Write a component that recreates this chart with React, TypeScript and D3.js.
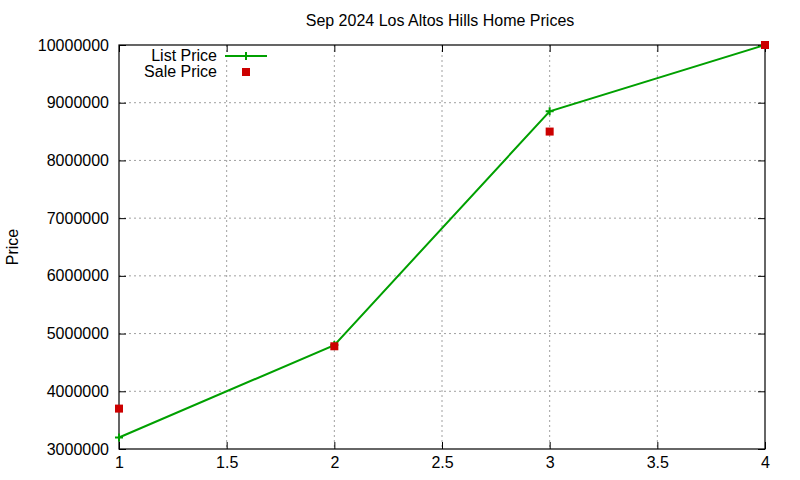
import React, { useEffect, useRef } from 'react';
import * as d3 from 'd3';

const bedrooms = [1, 2, 3, 4];
const listPrice = [3200000, 4800000, 8850000, 10000000];
const salePrice = [3700000, 4780000, 8500000, 10000000];
const xTicks = [1, 1.5, 2, 2.5, 3, 3.5, 4];
const yTicks = [3000000, 4000000, 5000000, 6000000, 7000000, 8000000, 9000000, 10000000];

const App = () => {
  const ref = useRef<SVGSVGElement>(null);

  useEffect(() => {
    const svg = d3.select(ref.current);
    svg.selectAll('*').remove();

    const width = 800;
    const height = 480;
    const margin = { top: 45, right: 35, bottom: 31, left: 119 };
    const innerWidth = width - margin.left - margin.right;
    const innerHeight = height - margin.top - margin.bottom;
    const font = 'Liberation Sans, Arial, sans-serif';

    const x = d3.scaleLinear().domain([1, 4]).range([0, innerWidth]);
    const y = d3.scaleLinear().domain([3000000, 10000000]).range([innerHeight, 0]);

    svg.append('rect').attr('width', width).attr('height', height).attr('fill', '#fff');

    const g = svg.append('g').attr('transform', `translate(${margin.left},${margin.top})`);

    // Grid
    g.selectAll('.gx')
      .data(xTicks.slice(1, -1))
      .enter()
      .append('line')
      .attr('x1', d => x(d)).attr('x2', d => x(d))
      .attr('y1', 0).attr('y2', innerHeight)
      .attr('stroke', '#a0a0a0')
      .attr('stroke-dasharray', '2,3');

    g.selectAll('.gy')
      .data(yTicks.slice(1, -1))
      .enter()
      .append('line')
      .attr('x1', 0).attr('x2', innerWidth)
      .attr('y1', d => y(d)).attr('y2', d => y(d))
      .attr('stroke', '#a0a0a0')
      .attr('stroke-dasharray', '2,3');

    // Axes (ticks inside, mirrored)
    g.append('g')
      .attr('transform', `translate(0,${innerHeight})`)
      .call(d3.axisBottom(x).tickValues(xTicks).tickSizeInner(-7).tickSizeOuter(0).tickPadding(8).tickFormat(d3.format('')))
      .call(a => a.select('.domain').remove());
    g.append('g')
      .call(d3.axisTop(x).tickValues(xTicks).tickSizeInner(-7).tickSizeOuter(0).tickFormat(() => ''))
      .call(a => a.select('.domain').remove());
    g.append('g')
      .call(d3.axisLeft(y).tickValues(yTicks).tickSizeInner(-7).tickSizeOuter(0).tickPadding(10).tickFormat(d3.format('d')))
      .call(a => a.select('.domain').remove());
    g.append('g')
      .attr('transform', `translate(${innerWidth},0)`)
      .call(d3.axisRight(y).tickValues(yTicks).tickSizeInner(-7).tickSizeOuter(0).tickFormat(() => ''))
      .call(a => a.select('.domain').remove());

    g.selectAll('.tick text')
      .attr('font-family', font)
      .attr('font-size', '16px')
      .attr('fill', '#000');
    g.selectAll('.tick line').attr('stroke', '#000');

    g.append('rect')
      .attr('width', innerWidth)
      .attr('height', innerHeight)
      .attr('fill', 'none')
      .attr('stroke', '#000')
      .attr('stroke-width', 1.2);

    // List price line
    const green = '#00a000';
    const red = '#cc0000';
    const line = d3.line<number>().x((_, i) => x(bedrooms[i])).y(d => y(d));
    g.append('path')
      .datum(listPrice)
      .attr('d', line)
      .attr('fill', 'none')
      .attr('stroke', green)
      .attr('stroke-width', 2);

    const plus = (sel: any, cx: number, cy: number) => {
      sel.append('path')
        .attr('d', `M${cx - 4},${cy}H${cx + 4}M${cx},${cy - 4}V${cy + 4}`)
        .attr('stroke', green)
        .attr('stroke-width', 2);
    };
    listPrice.forEach((v, i) => plus(g, x(bedrooms[i]), y(v)));

    g.selectAll('.sale')
      .data(salePrice)
      .enter()
      .append('rect')
      .attr('x', (_, i) => x(bedrooms[i]) - 4)
      .attr('y', d => y(d) - 4)
      .attr('width', 8)
      .attr('height', 8)
      .attr('fill', red);

    // Legend
    const legend = svg.append('g').attr('font-family', font).attr('font-size', '16px');
    legend.append('text').attr('x', 217).attr('y', 61).attr('text-anchor', 'end').text('List Price');
    legend.append('line').attr('x1', 225).attr('x2', 267).attr('y1', 56).attr('y2', 56)
      .attr('stroke', green).attr('stroke-width', 2);
    plus(legend, 246, 56);
    legend.append('text').attr('x', 217).attr('y', 77).attr('text-anchor', 'end').text('Sale Price');
    legend.append('rect').attr('x', 242).attr('y', 68).attr('width', 8).attr('height', 8).attr('fill', red);

    // Title
    svg.append('text')
      .attr('x', 440)
      .attr('y', 26)
      .attr('text-anchor', 'middle')
      .attr('font-family', font)
      .attr('font-size', '16px')
      .text('Sep 2024 Los Altos Hills Home Prices');

    // Y label
    svg.append('text')
      .attr('transform', `translate(18,${margin.top + innerHeight / 2}) rotate(-90)`)
      .attr('text-anchor', 'middle')
      .attr('font-family', font)
      .attr('font-size', '16px')
      .text('Price');
  }, []);

  return <svg ref={ref} width={800} height={480} style={{ display: 'block', position: 'absolute', left: 0, top: 0 }} />;
};

export default App;
